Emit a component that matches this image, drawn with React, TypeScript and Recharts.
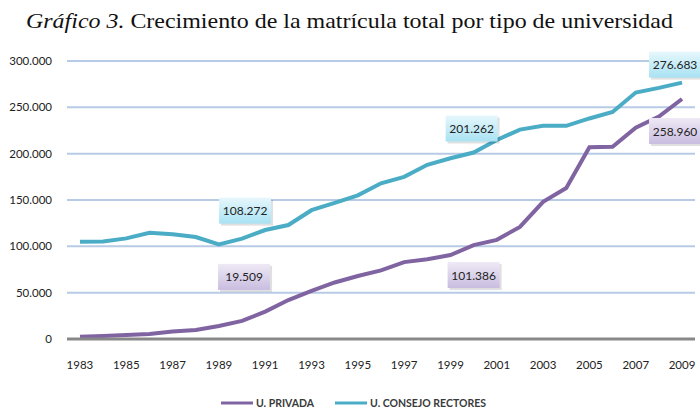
import React from "react";
import { LineChart, Line, XAxis, YAxis, CartesianGrid, Legend, LabelList } from "recharts";

const years = [1983, 1984, 1985, 1986, 1987, 1988, 1989, 1990, 1991, 1992, 1993, 1994, 1995, 1996, 1997, 1998, 1999, 2000, 2001, 2002, 2003, 2004, 2005, 2006, 2007, 2008, 2009];
const privada = [2500, 3300, 4300, 5500, 8000, 9700, 14000, 19509, 29500, 42000, 52000, 61000, 68000, 74000, 83000, 86000, 90600, 101386, 107000, 121000, 148000, 163000, 207000, 207500, 228000, 240000, 258960];
const consejo = [105000, 105200, 108600, 114700, 113000, 110000, 102000, 108272, 117600, 123000, 139000, 147000, 155000, 168000, 175000, 188000, 195000, 201262, 214700, 226000, 230000, 230000, 238000, 245000, 266000, 271000, 276683];
const xTicks = [1983, 1985, 1987, 1989, 1991, 1993, 1995, 1997, 1999, 2001, 2003, 2005, 2007, 2009];
const yTicks = [0, 50000, 100000, 150000, 200000, 250000, 300000];
const labelledYears = [1990, 2000, 2009];

const TEAL = "#4bacc6";
const PURPLE = "#8064a2";
const SANS = "Lato, 'Liberation Sans', Arial, sans-serif";

const data = years.map((year, i) => ({ year, privada: privada[i], consejo: consejo[i] }));

const fmt = (v: number) => (v === 0 ? "0" : v.toLocaleString("de-DE"));

// box offsets relative to the point, per series and year
const OFFSETS: Record<string, Record<number, [number, number]>> = {
  consejo: { 1990: [3, -28], 2000: [-2, -24], 2009: [-7, -18] },
  privada: { 1990: [2, -44], 2000: [0, 30], 2009: [-7, 32] },
};

function makeLabel(series: "consejo" | "privada") {
  return (props: any) => {
    const { x, y, value, index } = props;
    const year = years[index];
    if (!labelledYears.includes(year)) return null;
    const [dx, dy] = OFFSETS[series][year];
    const w = 52;
    const h = 26;
    const cx = x + dx;
    const cy = y + dy;
    const grad = series === "consejo" ? "gradTeal" : "gradPurple";
    return (
      <g>
        <rect x={cx - w / 2 + 2} y={cy - h / 2 + 2} width={w} height={h} fill="#000" opacity={0.12} />
        <rect x={cx - w / 2} y={cy - h / 2} width={w} height={h} fill={`url(#${grad})`} />
        <text x={cx} y={cy} textAnchor="middle" dominantBaseline="central" fontSize={12} fontFamily={SANS} fill="#222">
          {fmt(value)}
        </text>
      </g>
    );
  };
}

const LegendContent = () => (
  <div style={{ height: 16, display: "flex", justifyContent: "center", alignItems: "center", fontFamily: SANS, fontSize: 10.5, fontWeight: 700, color: "#3a3a3a", paddingLeft: 12 }}>
    <svg width={32} height={6}><line x1={0} y1={3} x2={32} y2={3} stroke={PURPLE} strokeWidth={3} /></svg>
    <span style={{ marginLeft: 3, marginRight: 21 }}>U. PRIVADA</span>
    <svg width={32} height={6}><line x1={0} y1={3} x2={32} y2={3} stroke={TEAL} strokeWidth={3} /></svg>
    <span style={{ marginLeft: 3 }}>U. CONSEJO RECTORES</span>
  </div>
);

export default function App() {
  return (
    <div style={{ position: "absolute", top: 0, left: 0, width: 700, height: 411, background: "#fff", overflow: "hidden" }}>
      <div style={{ position: "absolute", top: 9, left: 0, width: 700, textAlign: "center", fontFamily: "'Liberation Serif', 'Times New Roman', serif", fontSize: 21, color: "#111", transform: "scaleX(1.14)", transformOrigin: "354px 0", whiteSpace: "nowrap" }}>
        <i>Gráfico 3.</i> Crecimiento de la matrícula total por tipo de universidad
      </div>
      <LineChart width={700} height={411} data={data} margin={{ top: 61, right: 5, bottom: 0, left: 0 }} style={{ position: "absolute", top: 0, left: 0 }}>
        <defs>
          <linearGradient id="gradTeal" x1="0" y1="0" x2="0" y2="1">
            <stop offset="0%" stopColor="#e6f7fc" />
            <stop offset="100%" stopColor="#a9e2f3" />
          </linearGradient>
          <linearGradient id="gradPurple" x1="0" y1="0" x2="0" y2="1">
            <stop offset="0%" stopColor="#eee9f5" />
            <stop offset="100%" stopColor="#c9bde0" />
          </linearGradient>
        </defs>
        <CartesianGrid vertical={false} stroke="#b8cbe6" strokeWidth={2} />
        <XAxis
          dataKey="year"
          type="number"
          domain={[1982.44, 2009.56]}
          ticks={xTicks}
          tickLine={false}
          axisLine={{ stroke: "#888", strokeWidth: 3 }}
          tick={{ fontSize: 11.5, fontFamily: SANS, fill: "#222" }}
          tickMargin={16}
          height={56}
          interval={0}
        />
        <YAxis
          domain={[0, 300000]}
          ticks={yTicks}
          tickFormatter={fmt}
          tickLine={false}
          axisLine={false}
          tick={{ fontSize: 11.5, fontFamily: SANS, fill: "#222" }}
          tickSize={0}
          tickMargin={15}
          width={67}
        />
        <Legend verticalAlign="bottom" content={<LegendContent />} />
        <Line dataKey="privada" stroke={PURPLE} strokeWidth={4} dot={false} isAnimationActive={false}>
          <LabelList dataKey="privada" content={makeLabel("privada")} />
        </Line>
        <Line dataKey="consejo" stroke={TEAL} strokeWidth={4} dot={false} isAnimationActive={false}>
          <LabelList dataKey="consejo" content={makeLabel("consejo")} />
        </Line>
      </LineChart>
    </div>
  );
}
